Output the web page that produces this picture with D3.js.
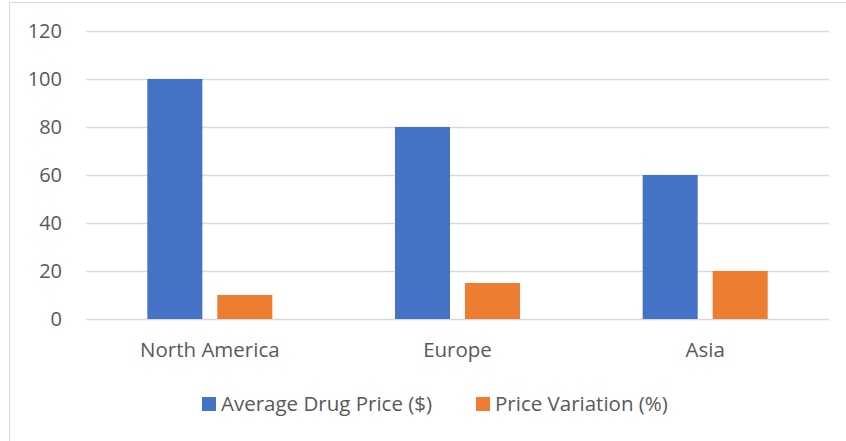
<!DOCTYPE html>
<html>
<head>
<meta charset="utf-8">
<script src="https://cdn.jsdelivr.net/npm/d3@7"></script>
<style>
  body { margin: 0; background: #fff; }
  text { font-family: "Open Sans", sans-serif; fill: #595959; }
</style>
</head>
<body>
<div id="chart"></div>
<script>
// data
const regions = ["North America", "Europe", "Asia"];
const seriesNames = ["Average Drug Price ($)", "Price Variation (%)"];
const avgPrice = [100, 80, 60];
const priceVariation = [10, 15, 20];
const yTicks = [0, 20, 40, 60, 80, 100, 120];

const W = 846, H = 441;
const plot = {left: 86, right: 829, top: 31, bottom: 319};

const color = d3.scaleOrdinal()
  .domain(seriesNames)
  .range(["#4472C4", "#ED7D31"]);

const svg = d3.select("#chart")
  .append("svg")
  .attr("width", W)
  .attr("height", H);

// chart border (only top / left visible in frame)
svg.append("rect")
  .attr("x", 9.5).attr("y", 2.5)
  .attr("width", 900).attr("height", 500)
  .attr("fill", "none")
  .attr("stroke", "#d9d9d9");

const y = d3.scaleLinear().domain([0, 120]).range([plot.bottom, plot.top]);

const x0 = d3.scaleBand()
  .domain(regions)
  .range([plot.left, plot.right]);

const x1 = d3.scaleBand()
  .domain(seriesNames)
  .range([0, x0.bandwidth()])
  .paddingInner(0.214)
  .paddingOuter(0.876);

// gridlines
svg.append("g")
  .selectAll("line")
  .data(yTicks)
  .enter()
  .append("line")
  .attr("x1", plot.left)
  .attr("x2", plot.right)
  .attr("y1", d => Math.round(y(d)) + 0.5)
  .attr("y2", d => Math.round(y(d)) + 0.5)
  .attr("stroke", "#d9d9d9")
  .attr("stroke-width", 1.3);

// y labels
svg.append("g")
  .selectAll("text")
  .data(yTicks)
  .enter()
  .append("text")
  .attr("x", 62)
  .attr("y", d => y(d))
  .attr("dy", "0.36em")
  .attr("text-anchor", "end")
  .style("font-size", "20px")
  .text(d => d);

// bars
const rows = regions.map((r, i) => ({region: r, values: [avgPrice[i], priceVariation[i]]}));

const groups = svg.append("g")
  .selectAll("g")
  .data(rows)
  .enter()
  .append("g")
  .attr("transform", d => "translate(" + x0(d.region) + ",0)");

groups.selectAll("rect")
  .data(d => d.values.map((v, j) => ({key: seriesNames[j], value: v})))
  .enter()
  .append("rect")
  .attr("x", d => x1(d.key))
  .attr("y", d => y(d.value))
  .attr("width", x1.bandwidth())
  .attr("height", d => y(0) - y(d.value))
  .attr("fill", d => color(d.key));

// category labels
svg.append("g")
  .selectAll("text")
  .data(regions)
  .enter()
  .append("text")
  .attr("x", d => x0(d) + x0.bandwidth() / 2)
  .attr("y", 357)
  .attr("text-anchor", "middle")
  .style("font-size", "20.5px")
  .text(d => d);

// legend
const legendX = [202, 476];
const legend = svg.append("g")
  .selectAll("g")
  .data(seriesNames)
  .enter()
  .append("g")
  .attr("transform", (d, i) => "translate(" + legendX[i] + ",397)");

legend.append("rect")
  .attr("width", 14)
  .attr("height", 14)
  .attr("fill", d => color(d));

legend.append("text")
  .attr("x", 19)
  .attr("y", 7)
  .attr("dy", "0.36em")
  .style("font-size", "20.5px")
  .text(d => d);
</script>
</body>
</html>
